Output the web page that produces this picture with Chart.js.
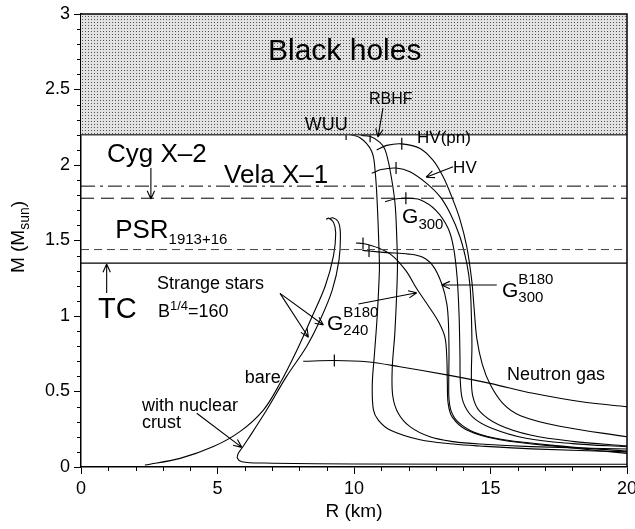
<!DOCTYPE html>
<html><head><meta charset="utf-8">
<script src="https://cdn.jsdelivr.net/npm/chart.js@4.4.0/dist/chart.umd.min.js"></script>
<style>html,body{margin:0;padding:0;background:#fff}#wrap{width:635px;height:529px}</style>
</head><body><div id="wrap"><canvas id="c" width="635" height="529"></canvas></div>
<script>
// ---- data (R in km, M in Msun) ----
const curveWUU = [[9.45,2.20],[9.71,2.205],[10.22,2.18],[10.65,2.09],[10.77,1.967],[10.85,1.75],[10.92,1.42],[10.93,1.30],[10.85,1.0],[10.75,0.75],[10.67,0.55],[10.71,0.38],[10.89,0.31],[11.32,0.245],[12.42,0.18],[13.64,0.152],[14.6,0.139],[16.5,0.12],[20,0.10]];
const curveRBHF = [[10.25,2.195],[10.58,2.19],[10.95,2.15],[11.14,2.10],[11.32,1.967],[11.5,1.75],[11.57,1.5],[11.59,1.3],[11.5,0.9],[11.4,0.65],[11.42,0.47],[11.62,0.356],[12.05,0.267],[12.78,0.2],[13.64,0.168],[14.6,0.152],[16.5,0.135],[20,0.119]];
const curveHVpn = [[10.83,2.10],[11.2,2.13],[11.75,2.14],[12.42,2.11],[12.9,2.03],[13.27,1.92],[13.58,1.79],[13.88,1.64],[14.13,1.46],[14.31,1.24],[14.4,1.05],[14.5,0.85],[14.7,0.68],[14.98,0.55],[15.46,0.42],[16.1,0.34],[17.54,0.27],[20,0.20]];
const curveHV = [[10.65,1.945],[11.0,1.97],[11.54,1.98],[12.05,1.955],[12.66,1.878],[13.15,1.79],[13.52,1.68],[13.88,1.525],[14.13,1.35],[14.25,1.2],[14.3,1.0],[14.32,0.8],[14.3,0.6],[14.35,0.47],[14.6,0.37],[15.3,0.28],[16.5,0.21],[18,0.17],[20,0.14]];
const curveG300 = [[11.14,1.757],[11.5,1.775],[11.9,1.78],[12.42,1.77],[13.0,1.70],[13.45,1.58],[13.65,1.45],[13.78,1.25],[13.85,1.0],[13.88,0.75],[13.9,0.55],[14.0,0.43],[14.35,0.33],[15.0,0.26],[16.3,0.19],[18,0.155],[20,0.134]];
const curveG240B180 = [[10.07,1.483],[10.33,1.48],[10.9,1.45],[11.4,1.40],[11.9,1.30],[12.3,1.18],[12.75,1.06],[13.1,0.96],[13.33,0.86],[13.4,0.72],[13.42,0.55],[13.45,0.42],[13.6,0.33],[14.13,0.245],[15.35,0.18],[17.8,0.13],[20,0.09]];
const curveG300B180 = [[10.3,1.435],[10.55,1.43],[11.2,1.42],[12.0,1.41],[12.5,1.39],[12.9,1.33],[13.22,1.21],[13.4,1.08],[13.46,0.95],[13.48,0.75],[13.47,0.55],[13.48,0.45],[13.56,0.37],[13.8,0.3],[14.4,0.23],[15.5,0.18],[17.8,0.135],[20,0.105]];
const curveNeutronGas = [[8.14,0.70],[9.28,0.705],[10.46,0.697],[11.68,0.664],[13.4,0.61],[14.98,0.554],[16.56,0.488],[18.4,0.43],[20,0.40]];
const curveStrangeBare = [[2.34,0.013],[3.63,0.057],[4.85,0.135],[5.82,0.234],[6.68,0.377],[7.29,0.554],[7.9,0.77],[8.45,0.99],[8.95,1.2],[9.25,1.40],[9.33,1.55],[9.25,1.62],[9.08,1.648],[8.98,1.64]];
const curveStrangeCrust = [[20,0.018],[10,0.02],[6.7,0.026],[5.89,0.035],[5.73,0.058],[5.76,0.09],[5.89,0.124],[6.1,0.18],[6.8,0.377],[7.53,0.6],[8.27,0.8],[8.75,0.97],[9.2,1.17],[9.45,1.37],[9.5,1.55],[9.42,1.625],[9.22,1.65],[9.1,1.645]];
const maxMassTicks = [[9.71,2.205],[10.59,2.19],[11.75,2.14],[11.54,1.98],[11.9,1.78],[10.33,1.48],[10.55,1.43],[9.28,0.705]];
const blackHoleLimit = 2.2;
const obsCygX2 = 1.86, obsVelaX1 = 1.78, obsPSR = 1.44, obsTC = 1.35;
const xTicks = [0,5,10,15,20];
const yTicks = [0,0.5,1,1.5,2,2.5,3];

// ---- annotations (data coords) ----
const FONT = '"Liberation Sans", Arial, Helvetica, sans-serif';
const labels = [
  {x:6.85, y:2.695, parts:[['Black holes',30,0]]},
  {x:8.2, y:2.232, parts:[['WUU',18,0]]},
  {x:10.55, y:2.404, parts:[['RBHF',16,0]]},
  {x:12.31, y:2.146, parts:[['HV(pn)',17,0]]},
  {x:13.63, y:1.947, parts:[['HV',17,0]]},
  {x:0.95, y:2.02, parts:[['Cyg X\u20132',26,0]]},
  {x:5.24, y:1.88, parts:[['Vela X\u20131',26,0]]},
  {x:11.76, y:1.616, parts:[['G',21,0],['300',15,6]]},
  {x:1.25, y:1.515, parts:[['PSR',26,0],['1913+16',15,6]]},
  {x:0.62, y:0.985, parts:[['TC',29,0]]},
  {x:2.78, y:1.177, parts:[['Strange stars',18,0]]},
  {x:2.82, y:0.995, parts:[['B',18,0],['1/4',13,-7],['=160',18,0]]},
  {x:6.0, y:0.556, parts:[['bare',18,0]]},
  {x:2.23, y:0.371, parts:[['with nuclear',18,0]]},
  {x:2.23, y:0.258, parts:[['crust',18,0]]},
  {x:15.6, y:0.576, parts:[['Neutron gas',18,0]]},
  {x:15.42, y:1.128, parts:[['G',21,0],['B180',15,-13,'300',15,5]]},
  {x:9.01, y:0.907, parts:[['G',21,0],['B180',15,-13,'240',15,5]]}
];
const arrows = [
  [11.06,2.377,10.88,2.185],
  [13.63,1.989,12.64,1.919],
  [2.56,1.98,2.56,1.775],
  [0.94,1.152,0.94,1.344],
  [7.29,1.15,8.33,0.859],
  [7.29,1.15,8.88,0.94],
  [10.16,1.079,12.30,1.154],
  [15.23,1.205,13.21,1.205],
  [4.24,0.356,5.89,0.13]
];

// ---- pattern ----
const tile = document.createElement('canvas'); tile.width = 3; tile.height = 3;
const tctx = tile.getContext('2d');
tctx.fillStyle = '#e2e2e2'; tctx.fillRect(0,0,3,3);
tctx.fillStyle = '#555'; tctx.fillRect(1,1,1,1);
const mainCtx = document.getElementById('c').getContext('2d');
const dotPattern = mainCtx.createPattern(tile, 'repeat');

const pts = a => a.map(p => ({x:p[0], y:p[1]}));
const curve = d => ({data: pts(d), showLine:true, pointRadius:0, borderColor:'#000', borderWidth:1.1, tension:0.35, fill:false});
const hline = (v, dash, color, w) => ({data:[{x:0,y:v},{x:20,y:v}], showLine:true, pointRadius:0, borderColor:color, borderWidth:w, borderDash:dash, fill:false, tension:0});

const deco = {
  id:'deco',
  afterDraw(chart){
    const {ctx, chartArea:a, scales:{x, y}} = chart;
    const X = v => x.getPixelForValue(v), Y = v => y.getPixelForValue(v);
    ctx.save();
    ctx.strokeStyle = '#000'; ctx.lineWidth = 1.5;
    ctx.beginPath(); ctx.moveTo(a.left, a.top); ctx.lineTo(a.right, a.top); ctx.lineTo(a.right, a.bottom); ctx.stroke();
    ctx.lineWidth = 1;
    ctx.beginPath();
    for (let i = 0; i <= 20; i++) if (i % 5) { const px = Math.round(X(i)) + 0.5; ctx.moveTo(px, a.bottom); ctx.lineTo(px, a.bottom + 4); }
    for (let i = 0; i <= 30; i++) if (i % 5) { const py = Math.round(Y(i / 10)) + 0.5; ctx.moveTo(a.left, py); ctx.lineTo(a.left - 4, py); }
    ctx.stroke();
    // arrows
    ctx.lineWidth = 1.1;
    for (const [x1, y1, x2, y2] of arrows) {
      const p1 = [X(x1), Y(y1)], p2 = [X(x2), Y(y2)];
      const ang = Math.atan2(p2[1] - p1[1], p2[0] - p1[0]);
      ctx.beginPath(); ctx.moveTo(p1[0], p1[1]); ctx.lineTo(p2[0], p2[1]);
      for (const s of [-1, 1]) { ctx.moveTo(p2[0], p2[1]); ctx.lineTo(p2[0] - 9 * Math.cos(ang + s * 0.42), p2[1] - 9 * Math.sin(ang + s * 0.42)); }
      ctx.stroke();
    }
    // labels
    ctx.fillStyle = '#000'; ctx.textBaseline = 'alphabetic'; ctx.textAlign = 'left';
    for (const L of labels) {
      let cx = X(L.x); const by = Y(L.y);
      for (const p of L.parts) {
        ctx.font = p[1] + 'px ' + FONT;
        ctx.fillText(p[0], cx, by + p[2]);
        let w = ctx.measureText(p[0]).width;
        if (p.length > 3) {
          ctx.font = p[4] + 'px ' + FONT;
          ctx.fillText(p[3], cx, by + p[5]);
          w = Math.max(w, ctx.measureText(p[3]).width);
        }
        cx += w;
      }
    }
    // y title
    ctx.save();
    ctx.translate(24, 237); ctx.rotate(-Math.PI / 2);
    const t1 = 'M (M', t3 = ')';
    ctx.font = '14px ' + FONT; const w2 = ctx.measureText('sun').width;
    ctx.font = '19px ' + FONT; const w1 = ctx.measureText(t1).width, w3 = ctx.measureText(t3).width;
    let sx = -(w1 + w2 + w3) / 2;
    ctx.fillText(t1, sx, 0); sx += w1;
    ctx.font = '14px ' + FONT; ctx.fillText('sun', sx, 5); sx += w2;
    ctx.font = '19px ' + FONT; ctx.fillText(t3, sx, 0);
    ctx.restore();
    // x title
    ctx.font = '19px ' + FONT; ctx.textAlign = 'center';
    ctx.fillText('R (km)', (a.left + a.right) / 2, 517);
    ctx.restore();
  }
};

Chart.defaults.font.family = FONT;
new Chart(mainCtx, {
  type: 'scatter',
  data: { datasets: [
    {data:[{x:0,y:blackHoleLimit},{x:20,y:blackHoleLimit}], showLine:true, pointRadius:0, borderColor:'#444', borderWidth:1.5, fill:'end', backgroundColor:dotPattern, tension:0},
    hline(obsCygX2, [14,5,3,5], '#000', 1),
    hline(obsVelaX1, [13,7], '#000', 1),
    hline(obsPSR, [8,5], '#444', 1),
    hline(obsTC, [], '#000', 1.2),
    curve(curveWUU), curve(curveRBHF), curve(curveHVpn), curve(curveHV), curve(curveG300),
    curve(curveG240B180), curve(curveG300B180), curve(curveNeutronGas),
    curve(curveStrangeBare), curve(curveStrangeCrust),
    {data: pts(maxMassTicks), showLine:false, pointStyle:'line', rotation:90, pointRadius:6, borderColor:'#000', borderWidth:1.2}
  ]},
  options: {
    responsive:false, animation:false, devicePixelRatio:1,
    layout:{padding:{top:14, right:8, left:0, bottom:0}},
    plugins:{legend:{display:false}, tooltip:{enabled:false}},
    scales:{
      x:{type:'linear', min:0, max:20, afterBuildTicks: s => { s.ticks = xTicks.map(v => ({value:v})); },
         ticks:{color:'#000', font:{size:18}, padding:4, maxRotation:0, autoSkip:false},
         grid:{drawOnChartArea:false, color:'#000', tickLength:7, tickWidth:1},
         border:{color:'#000', width:1.5},
         afterFit: s => { s.height = 62; s.paddingLeft = 0; s.paddingRight = 0; }},
      y:{type:'linear', min:0, max:3, afterBuildTicks: s => { s.ticks = yTicks.map(v => ({value:v})); },
         ticks:{color:'#000', font:{size:18}, padding:4, autoSkip:false, callback: v => String(Math.round(v * 10) / 10)},
         grid:{drawOnChartArea:false, color:'#000', tickLength:7, tickWidth:1},
         border:{color:'#000', width:1.5},
         afterFit: s => { s.width = 81; s.paddingTop = 0; s.paddingBottom = 0; }}
    }
  },
  plugins:[deco]
});
</script></body></html>
